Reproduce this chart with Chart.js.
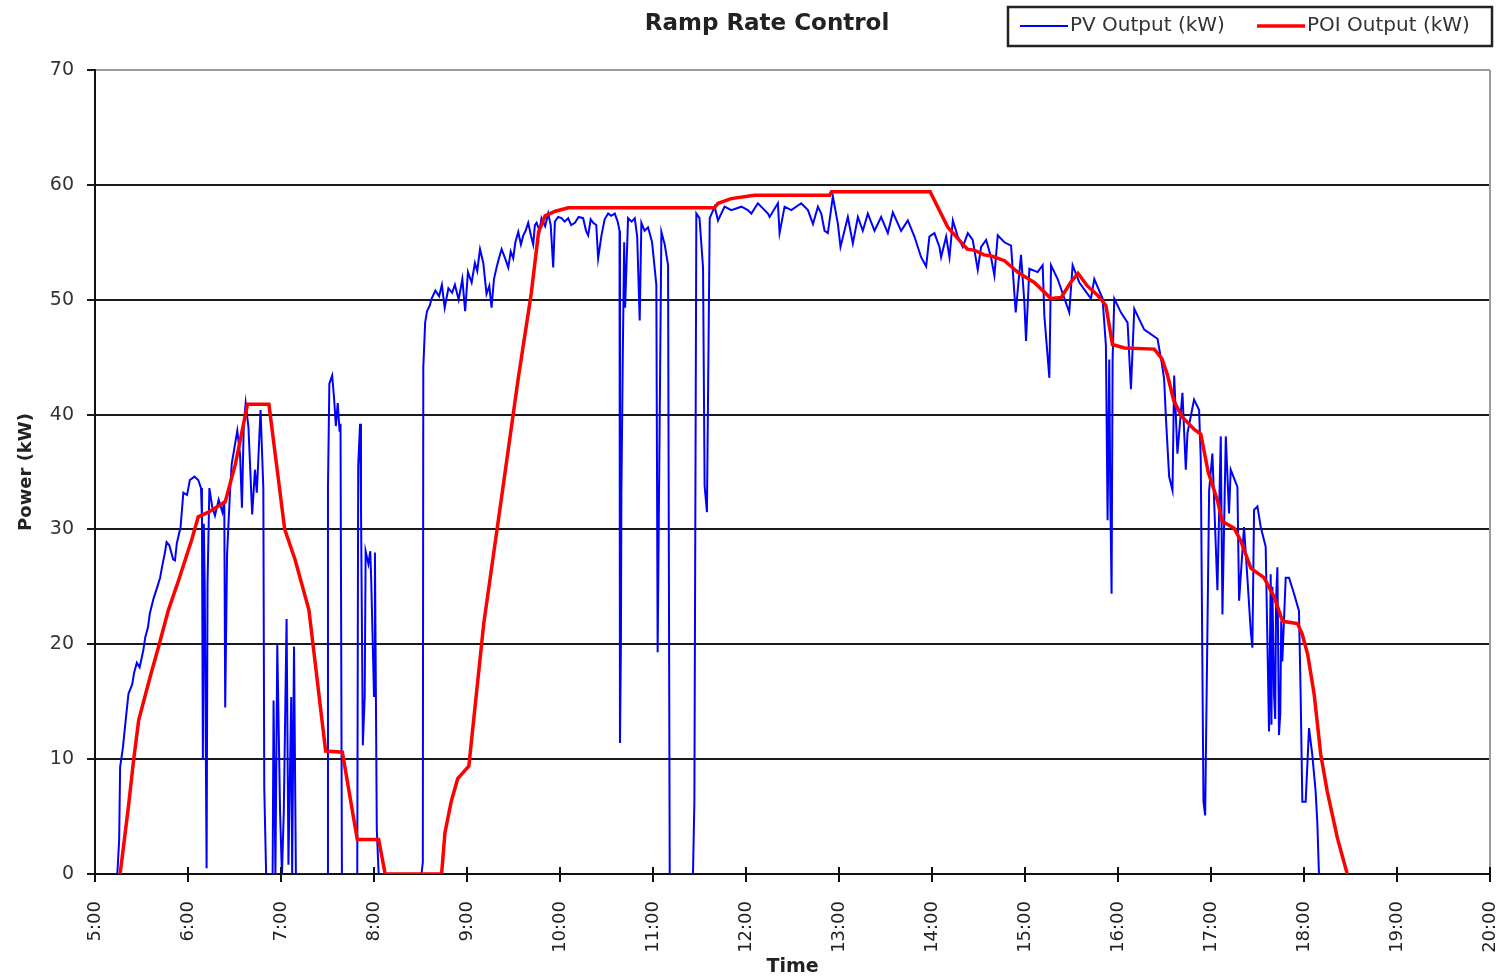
<!DOCTYPE html>
<html>
<head>
<meta charset="utf-8">
<title>Ramp Rate Control</title>
<script src="https://cdn.jsdelivr.net/npm/chart.js@4.4.1/dist/chart.umd.min.js"></script>
<style>
  html, body { margin: 0; padding: 0; background: #fff; }
  #wrap { width: 1509px; height: 980px; }
</style>
</head>
<body>
<div id="wrap"><canvas id="chart" width="1509" height="980"></canvas></div>
<script>
const chartTitle = "Ramp Rate Control";
const seriesNames = ["PV Output (kW)", "POI Output (kW)"];
const seriesColors = ["#0000ff", "#ff0000"];
const xAxisTitle = "Time";
const yAxisTitle = "Power (kW)";
const hourTicks = [5, 6, 7, 8, 9, 10, 11, 12, 13, 14, 15, 16, 17, 18, 19, 20];
const powerTicks = [0, 10, 20, 30, 40, 50, 60, 70];

// [hour of day, kW]
const pvOutput = [
  [5.24,0],[5.26,3],[5.27,9.3],[5.30,11],[5.33,13.4],[5.36,15.7],[5.40,16.5],[5.42,17.5],[5.45,18.4],[5.48,18.0],
  [5.52,19.5],[5.54,20.6],[5.57,21.5],[5.59,22.7],[5.63,24.0],[5.67,25.0],[5.70,25.8],[5.72,26.7],[5.75,27.9],[5.77,28.9],
  [5.80,28.6],[5.84,27.4],[5.86,27.3],[5.88,28.8],[5.92,30.2],[5.95,33.2],[5.99,33.0],[6.02,34.3],[6.07,34.6],[6.11,34.3],
  [6.14,33.6],[6.15,31.0],[6.16,10.0],[6.17,30.5],[6.18,25.0],[6.20,0.5],[6.21,25.3],[6.23,33.6],[6.26,32.0],[6.29,31.2],
  [6.33,32.6],[6.37,31.5],[6.39,32.5],[6.40,14.5],[6.42,27.8],[6.45,33.0],[6.47,35.7],[6.53,38.6],[6.56,36.5],[6.58,31.9],
  [6.60,39.2],[6.62,41.0],[6.65,38.9],[6.69,31.3],[6.72,35.2],[6.74,33.2],[6.78,40.4],[6.81,33.6],[6.82,7.5],[6.84,0],
  [6.91,0],[6.92,15.1],[6.94,0],[6.96,20.0],[6.99,5.4],[7.01,0],[7.03,5.4],[7.06,22.2],[7.08,0.8],[7.11,15.4],
  [7.12,0],[7.14,19.8],[7.16,0],[7.50,0],[7.505,33.6],[7.52,42.7],[7.55,43.4],[7.57,41.5],[7.59,39.0],[7.61,41.0],
  [7.63,38.5],[7.64,39.2],[7.655,0],[7.82,0],[7.83,35.5],[7.85,39.2],[7.86,32.2],[7.88,11.2],[7.90,15.5],[7.91,28.1],
  [7.94,27.0],[7.96,28.1],[7.97,25.6],[8.00,15.5],[8.01,28.0],[8.03,3.9],[8.05,0],
  [8.51,0],[8.525,1],[8.53,44.1],[8.55,48.0],[8.57,49.0],[8.60,49.5],[8.62,50.1],[8.66,50.8],[8.70,50.3],[8.73,51.3],
  [8.76,49.3],[8.80,51.0],[8.84,50.6],[8.87,51.3],[8.91,50.0],[8.95,51.8],[8.98,49.0],[9.01,52.4],[9.05,51.5],[9.085,53.2],
  [9.11,52.5],[9.14,54.4],[9.175,53.2],[9.21,50.5],[9.24,51.2],[9.264,49.3],[9.29,51.8],[9.318,52.8],[9.34,53.5],[9.372,54.4],
  [9.41,53.6],[9.444,52.8],[9.47,54.2],[9.497,53.6],[9.52,55.0],[9.551,55.9],[9.58,54.8],[9.605,55.6],[9.63,56.0],[9.658,56.7],
  [9.69,55.5],[9.712,54.8],[9.73,56.5],[9.748,56.7],[9.78,56.0],[9.801,57.1],[9.84,56.4],[9.873,57.5],[9.90,56.5],[9.927,52.8],
  [9.945,56.8],[9.98,57.2],[10.016,57.1],[10.05,56.8],[10.088,57.1],[10.12,56.5],[10.16,56.7],[10.20,57.2],[10.249,57.1],[10.28,56.0],
  [10.303,55.6],[10.33,57.0],[10.357,56.7],[10.39,56.5],[10.41,53.6],[10.446,55.6],[10.48,57.0],[10.518,57.5],[10.55,57.3],[10.589,57.5],
  [10.62,56.8],[10.64,56.0],[10.645,11.4],[10.655,20.0],[10.66,33.0],[10.675,45.0],[10.69,55.0],[10.70,49.3],[10.732,57.1],[10.77,56.8],
  [10.804,57.1],[10.83,55.5],[10.857,48.2],[10.875,56.7],[10.91,56.0],[10.947,56.3],[10.99,55.0],[11.036,51.3],[11.05,19.3],[11.06,28.8],
  [11.09,55.9],[11.126,54.8],[11.162,53.0],[11.18,0],[11.43,0],[11.445,6.3],[11.466,57.5],[11.50,57.1],[11.538,52.8],[11.555,33.8],
  [11.58,31.5],[11.61,57.1],[11.663,58.1],[11.699,56.9],[11.77,58.1],[11.842,57.8],[11.95,58.1],[12.02,57.8],[12.057,57.5],[12.128,58.4],
  [12.236,57.5],[12.254,57.2],[12.343,58.4],[12.361,55.8],[12.415,58.1],[12.487,57.8],[12.594,58.4],[12.666,57.8],[12.72,56.6],[12.773,58.1],
  [12.809,57.5],[12.845,56.0],[12.88,55.8],[12.934,59.0],[12.988,56.6],[13.016,54.6],[13.095,57.2],[13.149,54.9],[13.203,57.2],[13.256,56.0],
  [13.31,57.5],[13.382,56.0],[13.453,57.2],[13.525,55.8],[13.579,57.6],[13.668,56.0],[13.74,56.9],[13.811,55.5],[13.883,53.7],[13.937,52.9],
  [13.972,55.5],[14.026,55.8],[14.08,54.6],[14.098,53.7],[14.152,55.5],[14.188,53.7],[14.224,56.9],[14.277,55.5],[14.331,54.6],[14.385,55.8],
  [14.438,55.2],[14.492,52.6],[14.528,54.6],[14.582,55.2],[14.635,53.7],[14.671,52.1],[14.707,55.6],[14.778,55.0],[14.85,54.7],[14.9,48.9],
  [14.957,53.9],[14.993,49.8],[15.011,46.4],[15.047,52.7],[15.136,52.4],[15.19,53.0],[15.208,48.6],[15.262,43.2],[15.28,53.0],[15.351,51.8],
  [15.476,48.9],[15.512,53.0],[15.584,51.5],[15.637,50.9],[15.709,50.1],[15.745,51.8],[15.834,50.1],[15.87,46.0],[15.888,30.8],[15.906,44.8],
  [15.917,33.1],[15.931,24.4],[15.942,44.8],[15.96,50.1],[16.031,48.9],[16.103,48.0],[16.139,42.2],[16.175,49.2],[16.282,47.4],[16.425,46.6],
  [16.47,44.5],[16.496,43.1],[16.514,39.9],[16.55,34.6],[16.586,33.4],[16.604,43.4],[16.639,36.6],[16.693,41.9],[16.729,35.2],[16.747,38.4],
  [16.818,41.3],[16.872,40.4],[16.89,36.1],[16.919,6.3],[16.937,5.1],[16.962,21.5],[16.98,33.4],[17.015,36.6],[17.069,24.7],[17.105,38.1],
  [17.123,22.6],[17.159,38.1],[17.194,31.4],[17.212,35.2],[17.284,33.7],[17.302,23.8],[17.355,30.2],[17.391,25.8],[17.427,21.2],[17.445,19.7],
  [17.463,31.7],[17.499,32.0],[17.535,30.2],[17.588,28.5],[17.624,12.4],[17.642,26.1],[17.65,13.0],[17.66,25.0],[17.678,15.6],[17.69,13.5],
  [17.70,24.0],[17.714,26.7],[17.731,12.1],[17.745,14.0],[17.755,22.0],[17.767,18.5],[17.803,25.8],[17.839,25.8],[17.893,24.4],[17.946,22.9],
  [17.964,15.6],[17.982,6.3],[18.018,6.3],[18.054,12.7],[18.089,10.4],[18.125,7.2],[18.143,4.5],[18.161,0]
];

const poiOutput = [
  [5.27,0],[5.36,5.9],[5.415,9.9],[5.47,13.4],[5.594,17.2],[5.684,19.8],[5.79,23.0],[5.90,25.6],[6.04,29.1],[6.11,31.1],
  [6.22,31.5],[6.40,32.4],[6.51,35.7],[6.64,40.9],[6.87,40.9],[7.04,30.0],[7.15,27.4],[7.30,23.0],[7.48,10.7],[7.66,10.6],
  [7.82,3.0],[8.05,3.0],[8.12,0],[8.727,0],[8.763,3.6],[8.83,6.3],[8.90,8.3],[9.02,9.4],[9.18,21.8],[9.37,32.7],
  [9.55,43.1],[9.69,50.5],[9.77,55.9],[9.84,57.3],[9.95,57.7],[10.09,58.0],[11.66,58.0],[11.70,58.4],[11.84,58.8],[12.09,59.1],
  [12.90,59.1],[12.92,59.4],[13.98,59.4],[14.17,56.3],[14.38,54.4],[14.46,54.3],[14.56,53.9],[14.64,53.8],[14.78,53.4],[14.92,52.4],
  [15.10,51.5],[15.28,50.1],[15.39,50.2],[15.49,51.5],[15.57,52.3],[15.67,51.2],[15.78,50.4],[15.87,49.5],[15.94,46.1],[16.07,45.8],
  [16.39,45.7],[16.47,44.9],[16.53,43.5],[16.60,41.2],[16.69,39.8],[16.82,38.7],[16.89,38.3],[16.97,35.0],[17.07,32.5],[17.12,30.7],
  [17.25,30.1],[17.32,29.0],[17.43,26.6],[17.57,25.8],[17.68,24.1],[17.77,22.0],[17.93,21.8],[17.98,20.9],[18.04,19.1],[18.11,15.6],
  [18.18,10.4],[18.25,7.2],[18.36,3.1],[18.465,0]
];

const toPoints = (rows) => rows.map(([t, kw]) => ({ x: t, y: kw }));

// title, boxed legend, grey right edge and the little inner tick marks
const framePlugin = {
  id: "frame",
  afterDraw(chart) {
    const { ctx, chartArea: area, scales } = chart;
    ctx.save();

    ctx.strokeStyle = "#9c9c9c";
    ctx.lineWidth = 2;
    ctx.beginPath();
    ctx.moveTo(area.right, area.top);
    ctx.lineTo(area.right, area.bottom);
    ctx.stroke();

    ctx.strokeStyle = "#111";
    scales.x.ticks.forEach((tick) => {
      const px = scales.x.getPixelForValue(tick.value);
      ctx.beginPath();
      ctx.moveTo(px, area.bottom - 7);
      ctx.lineTo(px, area.bottom);
      ctx.stroke();
    });

    ctx.fillStyle = "#222";
    ctx.textBaseline = "middle";
    ctx.textAlign = "center";
    ctx.font = "bold 23px 'DejaVu Sans'";
    ctx.fillText(chartTitle, 767, 24);

    // legend box
    ctx.lineWidth = 2.5;
    ctx.strokeStyle = "#222";
    ctx.strokeRect(1008, 7, 484, 39);
    ctx.textAlign = "left";
    ctx.font = "20px 'DejaVu Sans'";
    const items = [
      { x: 1020, width: 2 },
      { x: 1257, width: 3.5 },
    ];
    items.forEach((item, i) => {
      ctx.strokeStyle = seriesColors[i];
      ctx.lineWidth = item.width;
      ctx.beginPath();
      ctx.moveTo(item.x, 26);
      ctx.lineTo(item.x + 48, 26);
      ctx.stroke();
      ctx.fillStyle = "#333";
      ctx.fillText(seriesNames[i], item.x + 50, 26);
    });

    ctx.restore();
  },
};

const config = {
  type: "line",
  data: {
    datasets: [
      {
        label: seriesNames[0],
        data: toPoints(pvOutput),
        borderColor: seriesColors[0],
        borderWidth: 2,
        pointRadius: 0,
        tension: 0,
        order: 1,
      },
      {
        label: seriesNames[1],
        data: toPoints(poiOutput),
        borderColor: seriesColors[1],
        borderWidth: 3.5,
        pointRadius: 0,
        tension: 0,
        order: 0,
      },
    ],
  },
  options: {
    responsive: false,
    animation: false,
    layout: { padding: { top: 70, right: 19, left: 0, bottom: 0 } },
    plugins: {
      legend: { display: false },
      title: { display: false },
      tooltip: { enabled: false },
    },
    scales: {
      x: {
        type: "linear",
        min: hourTicks[0],
        max: hourTicks[hourTicks.length - 1],
        afterBuildTicks: (scale) => {
          scale.ticks = hourTicks.map((h) => ({ value: h }));
        },
        afterFit: (scale) => {
          scale.height = 106;
          scale.paddingLeft = 0;
          scale.paddingRight = 0;
        },
        ticks: {
          autoSkip: false,
          maxRotation: 90,
          minRotation: 90,
          padding: 19,
          color: "#222",
          font: { family: "DejaVu Sans", size: 18 },
          callback: (value) => value + ":00",
        },
        grid: {
          drawOnChartArea: false,
          tickLength: 8,
          tickColor: "#111",
          lineWidth: 2,
        },
        border: { color: "#111", width: 2 },
        title: {
          display: true,
          text: xAxisTitle,
          color: "#222",
          font: { family: "DejaVu Sans", size: 19, weight: "bold" },
          padding: { top: 0, bottom: 2 },
        },
      },
      y: {
        min: powerTicks[0],
        max: powerTicks[powerTicks.length - 1],
        afterBuildTicks: (scale) => {
          scale.ticks = powerTicks.map((v) => ({ value: v }));
        },
        afterFit: (scale) => {
          scale.width = 95;
        },
        ticks: {
          padding: 13,
          color: "#333",
          font: { family: "DejaVu Sans", size: 19 },
        },
        grid: {
          color: (c) => (c.tick && c.tick.value === 70 ? "#9c9c9c" : "#1a1a1a"),
          tickColor: "#1a1a1a",
          lineWidth: 2,
          tickLength: 8,
        },
        border: { color: "#111", width: 2 },
        title: {
          display: true,
          text: yAxisTitle,
          color: "#222",
          font: { family: "DejaVu Sans", size: 18, weight: "bold" },
          padding: { top: 16, bottom: 0 },
        },
      },
    },
  },
  plugins: [framePlugin],
};

new Chart(document.getElementById("chart"), config);
</script>
</body>
</html>
